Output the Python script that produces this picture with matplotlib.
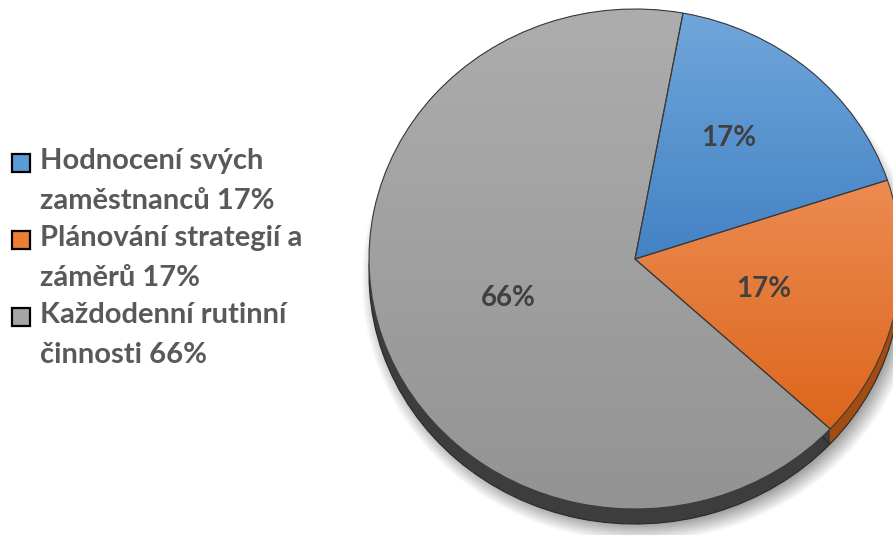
import numpy as np
import matplotlib
matplotlib.use("Agg")
import matplotlib.pyplot as plt
from matplotlib.colors import LinearSegmentedColormap
from matplotlib.patches import Rectangle

# ------------------------
# DATA
# ------------------------
legend_labels = [
    "Hodnocení svých\nzaměstnanců 17%",
    "Plánování strategií a\nzáměrů 17%",
    "Každodenní rutinní\nčinnosti 66%",
]
values = [17, 17, 66]
pct_labels = ["17%", "17%", "66%"]

base_colors = ["#5b9bd5", "#ed7d31", "#a5a5a5"]
grad_top = ["#70a6da", "#ec8b52", "#adadad"]
grad_bottom = ["#4382c5", "#dd661b", "#939393"]
side_colors = ["#2f5f8f", "#a34c12", "#3d3d3d"]
label_radius = [0.60, 0.50, 0.50]
label_turn = [5.0, -1.5, 0.0]      # degrees, nudges label off the bisector

# ------------------------
# LAYOUT (pixels)
# ------------------------
W, H = 893, 535
cx, cy = 635, 259          # pie centre, from top-left
rx, ry = 266, 250          # pie radii in px
depth = 15 / ry            # thickness of the disc
start = 79.6

fig = plt.figure(figsize=(W / 100, H / 100), dpi=100)
fig.patch.set_facecolor("white")
ax = fig.add_axes([0, 0, 1, 1])
xlim = (-cx / rx, (W - cx) / rx)
ylim = (-(H - cy) / ry, cy / ry)

# soft shadow under the disc
gx = np.linspace(*xlim, 600)
gy = np.linspace(*ylim, 400)
X, Y = np.meshgrid(gx, gy)
r = np.sqrt((X - 0.02) ** 2 + (Y + depth + 0.025) ** 2)
alpha = np.clip((1.05 - r) / 0.08, 0, 1) * 0.4
shadow = np.zeros(X.shape + (4,))
shadow[..., 3] = alpha
ax.imshow(shadow, extent=(*xlim, *ylim), origin="lower", aspect="auto", zorder=0)

# disc side: stacked copies shifted downwards
for off in np.linspace(depth, 0, 16):
    ax.pie(values, startangle=start, counterclock=False, center=(0, -off),
           colors=side_colors, wedgeprops=dict(linewidth=0, zorder=1))
# outline of the bottom of the side
ax.pie(values, startangle=start, counterclock=False, center=(0, -depth),
       colors=["none"] * 3,
       wedgeprops=dict(linewidth=0.8, edgecolor="#2a2a2a", zorder=1.5))

# top face
wedges, _ = ax.pie(values, startangle=start, counterclock=False,
                   colors=base_colors, wedgeprops=dict(linewidth=0, zorder=2))

for w, c0, c1 in zip(wedges, grad_top, grad_bottom):
    ext = w.get_path().get_extents()
    cmap = LinearSegmentedColormap.from_list("g", [c1, c0])
    grad = np.linspace(0, 1, 256).reshape(-1, 1)
    im = ax.imshow(grad, cmap=cmap, origin="lower", aspect="auto",
                   extent=(ext.x0, ext.x1, ext.y0, ext.y1), zorder=3)
    im.set_clip_path(w)

# slice outlines on top of gradients
ax.pie(values, startangle=start, counterclock=False,
       colors=["none"] * 3,
       wedgeprops=dict(linewidth=0.8, edgecolor="#3a3a3a", zorder=4))

# percentage labels
for w, txt, rad, turn in zip(wedges, pct_labels, label_radius, label_turn):
    ang = np.deg2rad((w.theta1 + w.theta2) / 2 + turn)
    ax.text(rad * np.cos(ang), rad * np.sin(ang), txt, ha="center", va="center",
            fontsize=20, fontweight="bold", color="#404040", family="Lato",
            zorder=5)

ax.set_xlim(*xlim)
ax.set_ylim(*ylim)
ax.set_aspect("auto")
ax.axis("off")

# ------------------------
# LEGEND
# ------------------------
box = 18
for i, (lab, col) in enumerate(zip(legend_labels, base_colors)):
    top = 154 + i * 77
    fig.add_artist(Rectangle((12 / W, 1 - (top + box) / H), box / W, box / H,
                             transform=fig.transFigure, facecolor=col,
                             edgecolor="black", linewidth=1.6))
    fig.text(40 / W, 1 - (top - 6) / H, lab, ha="left", va="top",
             fontsize=21, fontweight="bold", color="#595959", family="Lato",
             linespacing=1.68)

fig.savefig("out.png", dpi=100)
